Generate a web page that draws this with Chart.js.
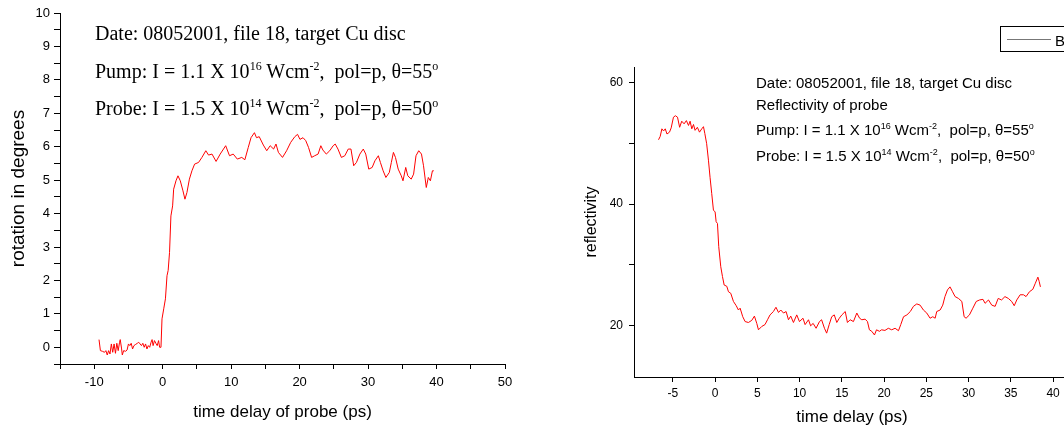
<!DOCTYPE html>
<html>
<head>
<meta charset="utf-8">
<script src="https://cdn.jsdelivr.net/npm/chart.js@4.4.1/dist/chart.umd.min.js"></script>
<style>
  html, body { margin: 0; padding: 0; overflow: hidden; background: #fff; width: 1064px; height: 429px; }
  canvas { position: absolute; top: 0; }
  #rot { left: 0; }
  #refl { left: 560px; }
  .note { position: absolute; white-space: nowrap; color: #000; }
  .serif { font-family: "Liberation Serif", "Times New Roman", serif; font-size: 20px; line-height: 20px; }
  .sans { font-family: "Liberation Sans", Arial, sans-serif; font-size: 15px; line-height: 15px; }
  .serif sup { font-size: 12px; vertical-align: 8px; line-height: 0; }
  .sans sup { font-size: 9px; vertical-align: 6px; line-height: 0; }
  #legend { position: absolute; left: 1000px; top: 26px; width: 90px; height: 24px; border: 1px solid #000; }
  #legend .ln { position: absolute; left: 6px; top: 12px; width: 44px; height: 0; border-top: 1px solid #777; }
  #legend .lb { position: absolute; left: 54px; top: 5px; font: 15px "Liberation Sans", Arial, sans-serif; }
</style>
</head>
<body>
<canvas id="rot" width="530" height="429"></canvas>
<canvas id="refl" width="520" height="429"></canvas>

<div class="note serif" style="left:95px; top:23px;">Date: 08052001, file 18, target Cu disc</div>
<div class="note serif" style="left:95px; top:61px;">Pump: I = 1.1 X 10<sup>16</sup> Wcm<sup>-2</sup>,&nbsp; pol=p, θ=55<sup>o</sup></div>
<div class="note serif" style="left:95px; top:98px;">Probe: I = 1.5 X 10<sup>14</sup> Wcm<sup>-2</sup>,&nbsp; pol=p, θ=50<sup>o</sup></div>

<div class="note sans" style="left:756px; top:75px;">Date: 08052001, file 18, target Cu disc</div>
<div class="note sans" style="left:756px; top:97px;">Reflectivity of probe</div>
<div class="note sans" style="left:756px; top:122px;">Pump: I = 1.1 X 10<sup>16</sup> Wcm<sup>-2</sup>,&nbsp; pol=p, θ=55<sup>o</sup></div>
<div class="note sans" style="left:756px; top:148px;">Probe: I = 1.5 X 10<sup>14</sup> Wcm<sup>-2</sup>,&nbsp; pol=p, θ=50<sup>o</sup></div>

<div id="legend"><div class="ln"></div><div class="lb">B</div></div>

<script>
// rotation vs time delay (left panel)
const rotTime = [
  -9.3, -9.1, -8.8, -8.5, -8.3, -8.1, -7.9, -7.7, -7.5, -7.3, -7.1, -6.9, -6.7, -6.5, -6.3, -6.2,
  -6.0, -5.9, -5.7, -5.4, -5.2, -5.0, -4.8, -4.6, -4.4, -4.2, -4.0, -3.7, -3.5, -3.3, -3.1, -2.9,
  -2.7, -2.5, -2.3, -2.1, -1.9, -1.7, -1.55, -1.4, -1.2, -1.0, -0.8, -0.6, -0.45, -0.25, -0.1, 0.15,
  0.4, 0.63, 0.8, 1.0, 1.2, 1.45, 1.6, 1.94, 2.23, 2.57, 2.96, 3.25, 3.54, 3.9, 4.27, 4.66,
  5.24, 5.73, 6.3, 6.7, 7.2, 7.8, 8.4, 9.2, 9.76, 10.3, 10.9, 11.55, 12.0, 12.5, 12.9, 13.4,
  13.7, 14.1, 14.7, 15.2, 15.7, 16.2, 16.55, 16.9, 17.5, 18.1, 18.7, 19.3, 19.7, 20.05, 20.5, 20.9,
  21.3, 21.75, 22.2, 22.7, 23.1, 23.4, 23.9, 24.4, 24.9, 25.2, 25.6, 26.1, 26.6, 27.1, 27.5, 27.9,
  28.3, 28.8, 29.3, 29.66, 30.1, 30.6, 31.0, 31.5, 31.8, 32.2, 32.6, 33.1, 33.4, 33.7, 34.0, 34.4,
  34.85, 35.1, 35.5, 35.8, 36.3, 36.65, 37.0, 37.4, 37.8, 38.1, 38.5, 38.8, 39.1, 39.4, 39.6
];
const rotAngle = [
  0.23, -0.1, -0.12, -0.15, -0.1, -0.23, -0.1, -0.2, 0.1, -0.15, 0.1, -0.18, 0.12, -0.1, 0.15, 0.23,
  -0.05, -0.23, -0.1, -0.12, -0.08, 0.1, 0.05, 0.12, -0.05, 0.05, 0.08, 0.12, 0.15, 0.1, 0.05, 0.12,
  0.0, 0.1, -0.05, 0.05, 0.0, 0.15, 0.23, 0.05, 0.2, 0.12, 0.05, 0.2, 0.0, 0.0, 0.85, 1.15,
  1.45, 2.14, 2.3, 2.84, 3.93, 4.23, 4.73, 4.98, 5.13, 4.98, 4.68, 4.43, 4.63, 5.03, 5.28, 5.48,
  5.53, 5.68, 5.88, 5.75, 5.78, 5.56, 5.78, 6.03, 5.73, 5.78, 5.63, 5.68, 5.61, 5.98, 6.27, 6.42,
  6.27, 6.3, 6.05, 5.88, 6.03, 5.93, 6.08, 5.83, 5.68, 5.88, 6.13, 6.3, 6.37, 6.22, 6.27, 6.18,
  5.98, 5.68, 5.73, 5.78, 6.03, 5.9, 5.78, 5.88, 6.03, 6.08, 5.93, 5.68, 5.73, 5.93, 5.93, 5.43,
  5.53, 5.78, 5.93, 5.78, 5.33, 5.38, 5.58, 5.73, 5.53, 5.28, 5.08, 5.23, 5.53, 5.83, 5.68, 5.33,
  5.13, 4.98, 5.38, 5.13, 5.03, 5.18, 5.73, 5.88, 5.78, 5.43, 4.78, 5.08, 4.98, 5.28, 5.28
];

// reflectivity vs time delay (right panel)
const reflTime = [
  -6.7, -6.5, -6.3, -6.1, -5.9, -5.7, -5.4, -5.2, -4.93, -4.7, -4.45, -4.2, -3.95, -3.67, -3.4, -3.15,
  -2.96, -2.76, -2.56, -2.37, -2.1, -1.85, -1.58, -1.38, -1.22, -1.0, -0.79, -0.6, -0.4, -0.2, 0.0, 0.12,
  0.28, 0.43, 0.67, 0.87, 1.07, 1.38, 1.58, 1.85, 2.17, 2.5, 2.76, 2.96, 3.27, 3.55, 3.94, 4.34,
  4.65, 4.93, 5.13, 5.52, 5.9, 6.2, 6.5, 6.9, 7.2, 7.5, 7.77, 8.1, 8.4, 8.68, 8.95, 9.27,
  9.66, 9.98, 10.4, 10.65, 11.05, 11.3, 11.6, 11.95, 12.35, 12.6, 12.94, 13.2, 13.5, 13.8, 14.1, 14.4,
  14.7, 15.0, 15.4, 15.66, 15.98, 16.37, 16.77, 17.1, 17.36, 17.75, 18.03, 18.26, 18.54, 18.86, 19.1, 19.45,
  19.7, 20.1, 20.5, 20.9, 21.3, 21.7, 21.97, 22.3, 22.7, 23.1, 23.47, 23.87, 24.26, 24.65, 25.05, 25.44,
  25.76, 26.04, 26.23, 26.63, 26.94, 27.2, 27.5, 27.8, 28.1, 28.4, 28.8, 29.2, 29.47, 29.7, 30.1, 30.5,
  30.9, 31.3, 31.7, 31.95, 32.35, 32.74, 33.14, 33.5, 33.9, 34.3, 34.7, 35.1, 35.4, 35.7, 36.1, 36.5,
  36.8, 37.2, 37.6, 37.9, 38.2, 38.35, 38.5
];
const reflValue = [
  50.55, 51.1, 52.35, 52.0, 52.35, 51.5, 51.8, 52.5, 54.26, 54.5, 54.26, 52.6, 53.6, 53.17, 53.7, 52.9,
  53.6, 52.35, 53.06, 52.1, 52.6, 51.8, 52.35, 52.7, 51.6, 49.9, 47.2, 44.4, 41.7, 39.0, 38.7, 37.1,
  36.8, 33.0, 29.7, 28.1, 26.7, 26.5, 25.6, 25.35, 24.0, 23.3, 22.6, 22.9, 21.5, 20.7, 20.55, 20.9,
  21.6, 20.4, 19.35, 19.9, 20.2, 21.0, 21.8, 22.35, 23.05, 22.2, 22.6, 22.1, 22.35, 21.0, 21.6, 20.55,
  21.8, 20.7, 21.25, 20.2, 21.0, 20.0, 20.4, 19.6, 20.7, 21.0, 19.6, 18.8, 20.2, 21.5, 21.8, 20.55,
  21.25, 21.8, 22.35, 20.55, 21.0, 20.7, 22.1, 21.25, 21.0, 21.1, 20.7, 19.35, 19.1, 18.5, 19.35, 19.1,
  19.35, 19.25, 19.6, 19.35, 19.6, 19.2, 20.2, 21.5, 21.8, 22.35, 23.2, 23.6, 23.4, 22.6, 22.1, 21.25,
  21.5, 21.25, 22.35, 22.6, 23.4, 24.8, 25.9, 26.4, 25.6, 24.8, 24.5, 24.0, 21.5, 21.25, 21.8, 22.9,
  24.0, 24.25, 24.35, 23.7, 24.25, 23.4, 23.2, 24.5, 24.25, 24.8, 24.5, 24.0, 23.3, 24.25, 25.1, 25.1,
  24.8, 25.6, 26.0, 27.0, 28.0, 27.3, 26.4
];

const FONT = '"Liberation Sans", Arial, sans-serif';

const pts = (xs, ys) => xs.map((x, i) => ({ x: x, y: ys[i] }));

const axis = (extra) => Object.assign({
    type: 'linear',
    border: { display: true, color: '#000', width: 1 },
    grid: { drawOnChartArea: false, drawTicks: true, color: '#000', tickLength: 5 },
}, extra);

// left panel
new Chart(document.getElementById('rot'), {
    type: 'line',
    data: { datasets: [{ data: pts(rotTime, rotAngle), borderColor: '#ff0000', borderWidth: 1, pointRadius: 0, tension: 0 }] },
    options: {
        responsive: false, animation: false, devicePixelRatio: 1,
        layout: { padding: { top: 13, right: 25, left: 0, bottom: 0 } },
        plugins: { legend: { display: false }, tooltip: { enabled: false } },
        scales: {
            x: axis({
                min: -15, max: 50,
                afterFit: s => { s.height = 65; },
                ticks: { stepSize: 5, autoSkip: false, includeBounds: false, maxRotation: 0, padding: 6, color: '#000', font: { family: FONT, size: 13 },
                    callback: v => (v % 10 === 0 ? String(v) : '') },
                title: { display: true, text: 'time delay of probe (ps)', color: '#000', font: { family: FONT, size: 17 }, padding: { top: 0, bottom: 6 } }
            }),
            y: axis({
                min: -0.5, max: 10,
                afterFit: s => { s.width = 60; },
                grid: { drawOnChartArea: false, color: '#000', tickLength: 6 },
                ticks: { stepSize: 0.5, autoSkip: false, includeBounds: false, padding: 4, color: '#000', font: { family: FONT, size: 13 },
                    callback: v => (Number.isInteger(v) ? String(v) : '') },
                title: { display: true, text: 'rotation in degrees', color: '#000', font: { family: FONT, size: 19 }, padding: { top: 7, bottom: 0 } }
            })
        }
    }
});

// right panel
new Chart(document.getElementById('refl'), {
    type: 'line',
    data: { datasets: [{ label: 'B', data: pts(reflTime, reflValue), borderColor: '#ff0000', borderWidth: 1, pointRadius: 0, tension: 0 }] },
    options: {
        responsive: false, animation: false, devicePixelRatio: 1,
        layout: { padding: { top: 67, right: 10, left: 0, bottom: 0 } },
        plugins: { legend: { display: false }, tooltip: { enabled: false } },
        scales: {
            x: axis({
                min: -9.6, max: 42,
                afterFit: s => { s.height = 52; },
                ticks: { stepSize: 5, autoSkip: false, includeBounds: false, maxRotation: 0, padding: 4, color: '#000', font: { family: FONT, size: 12 } },
                title: { display: true, text: 'time delay (ps)', color: '#000', font: { family: FONT, size: 17 }, padding: { top: 0, bottom: 1 } }
            }),
            y: axis({
                min: 11.6, max: 62.5,
                afterFit: s => { s.width = 74; },
                ticks: { stepSize: 10, autoSkip: false, includeBounds: false, padding: 6, color: '#000', font: { family: FONT, size: 12 },
                    callback: v => (v % 20 === 0 ? String(v) : '') },
                title: { display: true, text: 'reflectivity', color: '#000', font: { family: FONT, size: 16 }, padding: { top: 22, bottom: 0 } }
            })
        }
    }
});
</script>
</body>
</html>
